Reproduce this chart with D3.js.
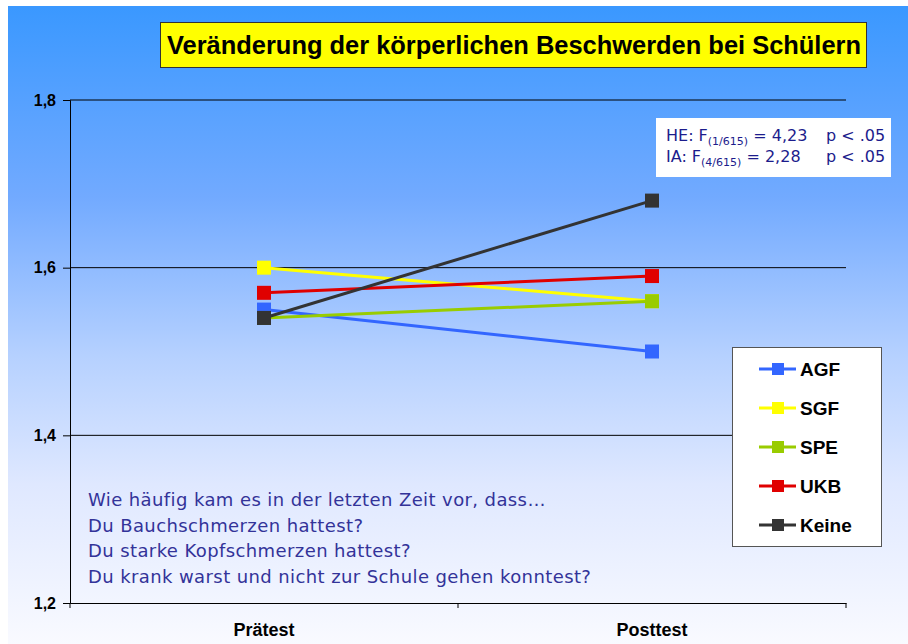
<!DOCTYPE html>
<html>
<head>
<meta charset="utf-8">
<script src="https://cdn.jsdelivr.net/npm/d3@7"></script>
<style>
  body { margin: 0; background: #fff; }
  svg { display: block; }
</style>
</head>
<body>
<svg id="chart" width="908" height="644"></svg>
<script>
// data
let categories = ['Prätest', 'Posttest']
let seriesNames = ['AGF', 'SGF', 'SPE', 'UKB', 'Keine']
let seriesColors = ['#3366ff', '#ffff00', '#99cc00', '#e00000', '#333333']
let praetest = [1.55, 1.60, 1.54, 1.57, 1.54]
let posttest = [1.50, 1.56, 1.56, 1.59, 1.68]
let yTicks = [1.2, 1.4, 1.6, 1.8]
let noteLines = [
    'Wie häufig kam es in der letzten Zeit vor, dass…',
    'Du Bauchschmerzen hattest?',
    'Du starke Kopfschmerzen hattest?',
    'Du krank warst und nicht zur Schule gehen konntest?'
]
let stats = [
    {lhs: 'HE: F', sub: '(1/615)', rhs: ' = 4,23', p: 'p < .05'},
    {lhs: 'IA: F', sub: '(4/615)', rhs: ' = 2,28', p: 'p < .05'}
]

let series = seriesNames.map((name, i) => ({
    name: name,
    color: seriesColors[i],
    values: [praetest[i], posttest[i]]
}))

let svg = d3.select('#chart')
let comic = '"Comic Sans MS", "DejaVu Sans", sans-serif'
let arial = 'Arial, "Liberation Sans", sans-serif'

// background gradient
let defs = svg.append('defs')
let grad = defs.append('linearGradient')
    .attr('id', 'bg')
    .attr('x1', 0).attr('y1', 0).attr('x2', 0).attr('y2', 1)
let stops = [[0, '#3a98ff'], [0.3, '#72aaff'], [0.55, '#b6d1ff'], [0.75, '#dfe8ff'], [1, '#f9faff']]
grad.selectAll('stop').data(stops).enter().append('stop')
    .attr('offset', d => d[0])
    .attr('stop-color', d => d[1])

svg.append('rect')
    .attr('x', 8).attr('y', 6)
    .attr('width', 900).attr('height', 638)
    .attr('fill', 'url(#bg)')

// scales
let x = d3.scaleBand().domain(categories).range([70, 846])
let y = d3.scaleLinear().domain([1.2, 1.8]).range([603, 100])

// gridlines
svg.append('g')
    .selectAll('line')
    .data(yTicks.filter(d => d > 1.2))
    .enter()
    .append('line')
    .attr('x1', 70).attr('x2', 846)
    .attr('y1', d => y(d)).attr('y2', d => y(d))
    .attr('stroke', '#000')
    .attr('stroke-width', 1)

// y axis
let yAxis = svg.append('g')
    .attr('transform', 'translate(70,0)')
    .call(d3.axisLeft(y).tickValues(yTicks).tickSize(7).tickPadding(7)
        .tickFormat(d => d3.format('.1f')(d).replace('.', ',')))
yAxis.select('.domain').attr('stroke', '#000')
yAxis.selectAll('text')
    .attr('font-family', arial)
    .attr('font-weight', 'bold')
    .attr('font-size', 16)
    .attr('fill', '#000')

// x axis
let xAxis = svg.append('g')
    .attr('transform', 'translate(0,603)')
    .call(d3.axisBottom(x).tickSize(0).tickPadding(20))
xAxis.select('.domain').attr('stroke', '#000')
xAxis.selectAll('text')
    .attr('font-family', arial)
    .attr('font-weight', 'bold')
    .attr('font-size', 18)
    .attr('fill', '#000')
// boundary ticks between categories
xAxis.selectAll('line.sep')
    .data([70, 458, 846])
    .enter()
    .append('line')
    .attr('class', 'sep')
    .attr('x1', d => d).attr('x2', d => d)
    .attr('y1', 0).attr('y2', 5)
    .attr('stroke', '#000')

// lines + markers
let line = d3.line()
    .x((d, i) => x(categories[i]) + x.bandwidth() / 2)
    .y(d => y(d))

let sg = svg.append('g')
    .selectAll('g.series')
    .data(series)
    .enter()
    .append('g')
    .attr('class', 'series')

sg.append('path')
    .attr('d', d => line(d.values))
    .attr('fill', 'none')
    .attr('stroke', d => d.color)
    .attr('stroke-width', 3)

sg.selectAll('rect')
    .data(d => d.values.map((v, i) => ({v: v, i: i, color: d.color})))
    .enter()
    .append('rect')
    .attr('x', d => x(categories[d.i]) + x.bandwidth() / 2 - 7)
    .attr('y', d => y(d.v) - 7)
    .attr('width', 14).attr('height', 14)
    .attr('fill', d => d.color)

// title
svg.append('rect')
    .attr('x', 160.5).attr('y', 22.5)
    .attr('width', 706).attr('height', 45)
    .attr('fill', '#ffff00')
    .attr('stroke', '#333')
    .attr('stroke-width', 1)
svg.append('text')
    .attr('x', 167).attr('y', 54)
    .attr('font-family', arial)
    .attr('font-weight', 'bold')
    .attr('font-size', 25)
    .attr('textLength', 694)
    .attr('lengthAdjust', 'spacingAndGlyphs')
    .text('Veränderung der körperlichen Beschwerden bei Schülern')

// stats box
svg.append('rect')
    .attr('x', 656).attr('y', 118)
    .attr('width', 235).attr('height', 59)
    .attr('fill', '#fff')
let st = svg.append('g')
    .selectAll('text')
    .data(stats)
    .enter()
st.append('text')
    .attr('x', 666)
    .attr('y', (d, i) => 141 + i * 21)
    .attr('font-family', comic)
    .attr('font-size', 16)
    .attr('fill', '#1c1c8c')
    .each(function (d) {
        let t = d3.select(this)
        t.append('tspan').text(d.lhs)
        t.append('tspan').attr('font-size', 11).attr('dy', 4).text(d.sub)
        t.append('tspan').attr('dy', -4).text(d.rhs)
    })
st.append('text')
    .attr('x', 826)
    .attr('y', (d, i) => 141 + i * 21)
    .attr('font-family', comic)
    .attr('font-size', 16)
    .attr('fill', '#1c1c8c')
    .text(d => d.p)

// legend
svg.append('rect')
    .attr('x', 732.5).attr('y', 347.5)
    .attr('width', 149).attr('height', 199)
    .attr('fill', '#fff')
    .attr('stroke', '#555')
let lg = svg.append('g')
    .selectAll('g')
    .data(series)
    .enter()
    .append('g')
    .attr('transform', (d, i) => `translate(0,${369 + i * 39})`)
lg.append('line')
    .attr('x1', 759).attr('x2', 796)
    .attr('stroke', d => d.color)
    .attr('stroke-width', 3)
lg.append('rect')
    .attr('x', 772).attr('y', -6)
    .attr('width', 12).attr('height', 12)
    .attr('fill', d => d.color)
lg.append('text')
    .attr('x', 800).attr('y', 6.5)
    .attr('font-family', arial)
    .attr('font-weight', 'bold')
    .attr('font-size', 19)
    .text(d => d.name)

// question note
svg.append('g')
    .selectAll('text')
    .data(noteLines)
    .enter()
    .append('text')
    .attr('x', 88)
    .attr('y', (d, i) => 506 + i * 25.7)
    .attr('font-family', comic)
    .attr('font-size', 18)
    .attr('letter-spacing', 0.4)
    .attr('fill', '#333399')
    .text(d => d)
</script>
</body>
</html>
